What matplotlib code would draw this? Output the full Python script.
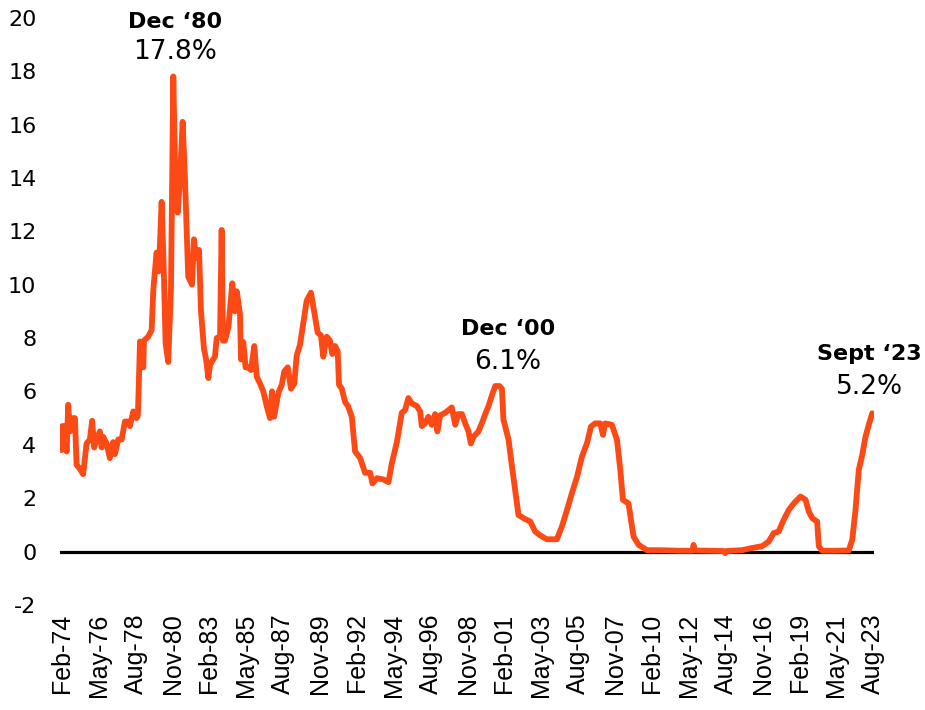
import matplotlib.pyplot as plt

plt.rcParams['axes.unicode_minus'] = False

# 3-month rate (decimal years, percent)
years = [1974.06, 1974.10, 1974.24, 1974.37, 1974.47, 1974.57, 1974.77, 1974.88, 1974.98,
         1975.18, 1975.38, 1975.59, 1975.79, 1975.93, 1976.05, 1976.20, 1976.40, 1976.51,
         1976.60, 1976.81, 1977.01, 1977.21, 1977.32, 1977.52, 1977.73, 1977.93, 1978.13,
         1978.23, 1978.44, 1978.64, 1978.72, 1978.85, 1979.05, 1979.09, 1979.35, 1979.56,
         1979.66, 1979.86, 1980.00, 1980.17, 1980.31, 1980.41, 1980.57, 1980.74, 1980.88,
         1980.98, 1981.15, 1981.29, 1981.45, 1981.59, 1981.79, 1982.02, 1982.14, 1982.26,
         1982.45, 1982.57, 1982.75, 1982.88, 1983.02, 1983.12, 1983.42, 1983.53, 1983.73,
         1983.83, 1983.91, 1984.03, 1984.24, 1984.48, 1984.64, 1984.75, 1984.95, 1985.01,
         1985.15, 1985.29, 1985.46, 1985.62, 1985.82, 1985.97, 1986.17, 1986.37, 1986.58,
         1986.78, 1986.90, 1987.03, 1987.29, 1987.50, 1987.65, 1987.86, 1988.06, 1988.26,
         1988.41, 1988.61, 1988.81, 1989.02, 1989.28, 1989.53, 1989.69, 1989.89, 1990.03,
         1990.24, 1990.44, 1990.58, 1990.75, 1990.91, 1990.99, 1991.16, 1991.36, 1991.54,
         1991.77, 1991.97, 1992.28, 1992.58, 1992.89, 1993.03, 1993.30, 1993.70, 1994.01,
         1994.21, 1994.52, 1994.82, 1995.02, 1995.22, 1995.43, 1995.74, 1995.94, 1996.04,
         1996.24, 1996.44, 1996.65, 1996.85, 1996.99, 1997.16, 1997.47, 1997.67, 1997.87,
         1998.08, 1998.26, 1998.49, 1998.69, 1998.89, 1999.03, 1999.19, 1999.50, 1999.70,
         1999.91, 2000.11, 2000.32, 2000.52, 2000.78, 2000.93, 2001.02, 2001.33, 2001.54,
         2001.74, 2001.94, 2002.25, 2002.66, 2002.96, 2003.27, 2003.67, 2004.28, 2004.59,
         2004.90, 2005.20, 2005.51, 2005.81, 2006.12, 2006.36, 2006.62, 2006.93, 2007.09,
         2007.23, 2007.64, 2007.95, 2008.15, 2008.31, 2008.65, 2008.96, 2009.27, 2009.78,
         2010.59, 2011.81, 2012.55, 2012.62, 2012.70, 2013.64, 2014.45, 2014.55, 2014.65,
         2015.58, 2016.09, 2016.80, 2017.20, 2017.51, 2017.81, 2018.12, 2018.43, 2018.73,
         2019.14, 2019.45, 2019.65, 2019.86, 2020.16, 2020.26, 2020.47, 2021.28, 2022.09,
         2022.30, 2022.50, 2022.70, 2022.91, 2023.11, 2023.31, 2023.52]
rates = [3.8, 4.7, 4.7, 3.75, 5.5, 4.5, 5.0, 5.0, 3.25,
         3.1, 2.9, 4.05, 4.2, 4.9, 3.9, 4.2, 4.5, 3.9,
         4.3, 4.05, 3.5, 4.1, 3.65, 4.2, 4.2, 4.87, 4.87,
         4.7, 5.25, 5.0, 5.1, 7.87, 6.9, 7.9, 8.05, 8.3,
         9.8, 11.2, 10.5, 13.1, 10.3, 7.8, 7.1, 9.9, 17.8,
         14.7, 12.7, 14.0, 16.1, 14.0, 10.3, 10.0, 11.7, 11.0,
         11.3, 9.0, 7.6, 7.2, 6.5, 7.0, 7.3, 8.0, 8.05,
         12.05, 7.9, 7.9, 8.4, 10.05, 9.0, 9.75, 8.9, 7.2,
         7.85, 6.9, 6.9, 6.8, 7.7, 6.55, 6.3, 6.0, 5.45,
         5.0, 6.0, 5.05, 5.95, 6.25, 6.75, 6.9, 6.1, 6.3,
         7.35, 7.75, 8.55, 9.4, 9.7, 8.8, 8.2, 8.1, 7.3,
         8.05, 7.9, 7.4, 7.7, 7.5, 6.25, 6.1, 5.6, 5.45,
         5.05, 3.75, 3.5, 2.95, 2.95, 2.55, 2.75, 2.7, 2.6,
         3.3, 4.1, 5.2, 5.3, 5.75, 5.55, 5.45, 5.25, 4.7,
         4.8, 5.05, 4.75, 5.15, 4.5, 5.1, 5.2, 5.3, 5.4,
         4.75, 5.15, 5.15, 4.8, 4.5, 4.05, 4.3, 4.5, 4.8,
         5.15, 5.45, 5.85, 6.2, 6.2, 6.1, 4.95, 4.2, 3.2,
         2.3, 1.37, 1.25, 1.12, 0.75, 0.6, 0.46, 0.46, 0.94,
         1.56, 2.19, 2.8, 3.56, 4.06, 4.68, 4.8, 4.8, 4.37,
         4.8, 4.75, 4.18, 3.06, 1.94, 1.8, 0.56, 0.25, 0.05,
         0.05, 0.03, 0.03, 0.25, 0.04, 0.03, 0.02, -0.06, 0.02,
         0.05, 0.12, 0.2, 0.37, 0.69, 0.75, 1.19, 1.56, 1.8,
         2.06, 1.94, 1.5, 1.25, 1.12, 0.2, 0.03, 0.03, 0.04,
         0.44, 1.56, 3.06, 3.62, 4.3, 4.75, 5.18]

tick_labels = ['Feb-74', 'May-76', 'Aug-78', 'Nov-80', 'Feb-83', 'May-85', 'Aug-87',
               'Nov-89', 'Feb-92', 'May-94', 'Aug-96', 'Nov-98', 'Feb-01', 'May-03',
               'Aug-05', 'Nov-07', 'Feb-10', 'May-12', 'Aug-14', 'Nov-16', 'Feb-19',
               'May-21', 'Aug-23']
months = {'Feb': 1, 'May': 4, 'Aug': 7, 'Nov': 10}

callouts = [('Dec \u201880', '17.8%', 1980.99, 19.85, 18.72),
            ('Dec \u201800', '6.1%', 2001.30, 8.33, 7.10),
            ('Sept \u201823', '5.2%', 2023.33, 7.40, 6.17)]


def to_year(lbl):
    mon, yy = lbl.split('-')
    yy = int(yy)
    yy = yy + 1900 if yy > 50 else yy + 2000
    return yy + months[mon] / 12


fig = plt.figure(figsize=(9.25, 7.1), dpi=100)
ax = fig.add_axes([0.0649, 0.148, 0.88, 0.827])

ax.axhline(0, color='black', lw=2.3, zorder=1)
ax.plot(years, rates, color='#FC4A16', lw=4.2, solid_joinstyle='round',
        solid_capstyle='round', zorder=2)

ax.set_xlim(1973.97, 2023.63)
ax.set_ylim(-2, 20)
ax.set_yticks(range(-2, 21, 2))
ax.set_xticks([to_year(l) for l in tick_labels])
ax.set_xticklabels(tick_labels, rotation=90, fontsize=18, family='Liberation Sans')
for lbl in ax.get_yticklabels():
    lbl.set_fontsize(16)
ax.tick_params(axis='both', length=0)
ax.tick_params(axis='y', pad=17)
ax.tick_params(axis='x', pad=6)
for s in ax.spines.values():
    s.set_visible(False)

for head, val, x, y1, y2 in callouts:
    ax.text(x, y1, head, ha='center', va='center', fontsize=16, fontweight='bold')
    ax.text(x, y2, val, ha='center', va='center', fontsize=19)

fig.savefig('out.png', dpi=100)
